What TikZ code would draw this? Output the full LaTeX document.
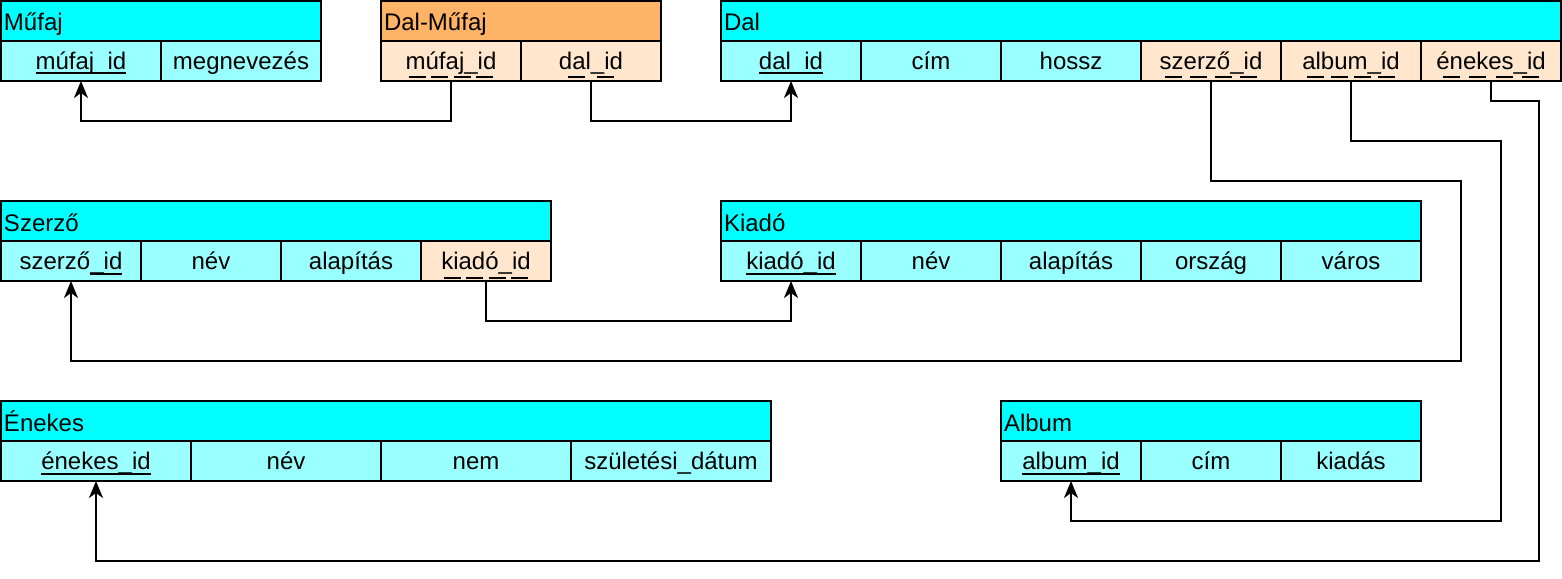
\documentclass[tikz,border=0pt]{standalone}
\usepackage{fontspec}
\setmainfont{Liberation Sans}
\usetikzlibrary{arrows.meta}
\definecolor{hdr}{HTML}{00FFFF}
\definecolor{fld}{HTML}{99FFFF}
\definecolor{fkc}{HTML}{FFE6CC}
\definecolor{org}{HTML}{FFB366}
\newcommand\ulin[1]{\setbox0\hbox{#1}\rlap{\smash{\rule[-5pt]{\wd0}{2pt}}}\box0}
\newcommand\uldash[1]{\setbox0\hbox{#1}\rlap{\smash{\hbox to \wd0{\xleaders\hbox to 22pt{\hss\rule[-9pt]{17pt}{2pt}\hss}\hfil}}}\box0}
\tikzset{
  cell/.style={draw=black, line width=2pt, rectangle, anchor=north west, inner sep=0pt, outer sep=0pt,
    minimum height=40pt, font=\fontsize{24}{27}\selectfont, text height=20pt, text depth=3pt},
  ttl/.style={cell, fill=hdr, align=left, inner xsep=3pt, text depth=0pt},
  pk/.style={cell, fill=fld},
  fk/.style={cell, fill=fkc},
  conn/.style={draw=black, line width=2pt, -{Stealth[length=17pt,width=14pt,inset=5pt]}},
}
\begin{document}
\begin{tikzpicture}[x=1pt,y=-1pt]
\useasboundingbox (0,0) rectangle (1562,578);
% Műfaj
\node[ttl, minimum width=320pt, text width=314pt] (mufaj) at (1,1) {Műfaj};
\node[pk, minimum width=160pt] (mufaj-id) at (1,41) {\ulin{múfaj\_id}};
\node[pk, minimum width=160pt] (mufaj-nev) at (161,41) {megnevezés};
% Dal-Műfaj
\node[ttl, fill=org, minimum width=280pt, text width=274pt] (dalmufaj) at (381,1) {Dal-Műfaj};
\node[fk, minimum width=140pt] (dm-mufaj) at (381,41) {\uldash{múfaj\_id}};
\node[fk, minimum width=140pt] (dm-dal) at (521,41) {\uldash{dal\_id}};
% Dal
\node[ttl, minimum width=840pt, text width=834pt] (dal) at (721,1) {Dal};
\node[pk, minimum width=140pt] (dal-id) at (721,41) {\ulin{dal\_id}};
\node[pk, minimum width=140pt] (dal-cim) at (861,41) {cím};
\node[pk, minimum width=140pt] (dal-hossz) at (1001,41) {hossz};
\node[fk, minimum width=140pt] (dal-szerzo) at (1141,41) {\uldash{szerző\_id}};
\node[fk, minimum width=140pt] (dal-album) at (1281,41) {\uldash{album\_id}};
\node[fk, minimum width=140pt] (dal-enekes) at (1421,41) {\uldash{énekes\_id}};
% Szerző
\node[ttl, minimum width=550pt, text width=544pt] (szerzo) at (1,201) {Szerző};
\node[pk, minimum width=140pt] (szerzo-id) at (1,241) {szerző\ulin{\_id}};
\node[pk, minimum width=140pt] (szerzo-nev) at (141,241) {név};
\node[pk, minimum width=140pt] (szerzo-alap) at (281,241) {alapítás};
\node[fk, minimum width=130pt] (szerzo-kiado) at (421,241) {\uldash{kiadó\_id}};
% Kiadó
\node[ttl, minimum width=700pt, text width=694pt] (kiado) at (721,201) {Kiadó};
\node[pk, minimum width=140pt] (kiado-id) at (721,241) {\ulin{kiadó\_id}};
\node[pk, minimum width=140pt] (kiado-nev) at (861,241) {név};
\node[pk, minimum width=140pt] (kiado-alap) at (1001,241) {alapítás};
\node[pk, minimum width=140pt] (kiado-orszag) at (1141,241) {ország};
\node[pk, minimum width=140pt] (kiado-varos) at (1281,241) {város};
% Énekes
\node[ttl, minimum width=770pt, text width=764pt] (enekes) at (1,401) {Énekes};
\node[pk, minimum width=190pt] (enekes-id) at (1,441) {\ulin{énekes\_id}};
\node[pk, minimum width=190pt] (enekes-nev) at (191,441) {név};
\node[pk, minimum width=190pt] (enekes-nem) at (381,441) {nem};
\node[pk, minimum width=200pt] (enekes-szul) at (571,441) {születési\_dátum};
% Album
\node[ttl, minimum width=420pt, text width=414pt] (album) at (1001,401) {Album};
\node[pk, minimum width=140pt] (album-id) at (1001,441) {\ulin{album\_id}};
\node[pk, minimum width=140pt] (album-cim) at (1141,441) {cím};
\node[pk, minimum width=140pt] (album-kiadas) at (1281,441) {kiadás};
% connectors
\draw[conn] (dm-mufaj.south) -- ++(0,40) -| (mufaj-id.south);
\draw[conn] (dm-dal.south) -- ++(0,40) -| (dal-id.south);
\draw[conn] (dal-szerzo.south) -- ++(0,100) -- ++(250,0) -- ++(0,180) -| (szerzo-id.south);
\draw[conn] (szerzo-kiado.south) -- ++(0,40) -| (kiado-id.south);
\draw[conn] (dal-album.south) -- ++(0,60) -- ++(150,0) -- ++(0,380) -| (album-id.south);
\draw[conn] (dal-enekes.south) -- ++(0,20) -- ++(48,0) -- ++(0,460) -| (enekes-id.south);
\end{tikzpicture}
\end{document}
